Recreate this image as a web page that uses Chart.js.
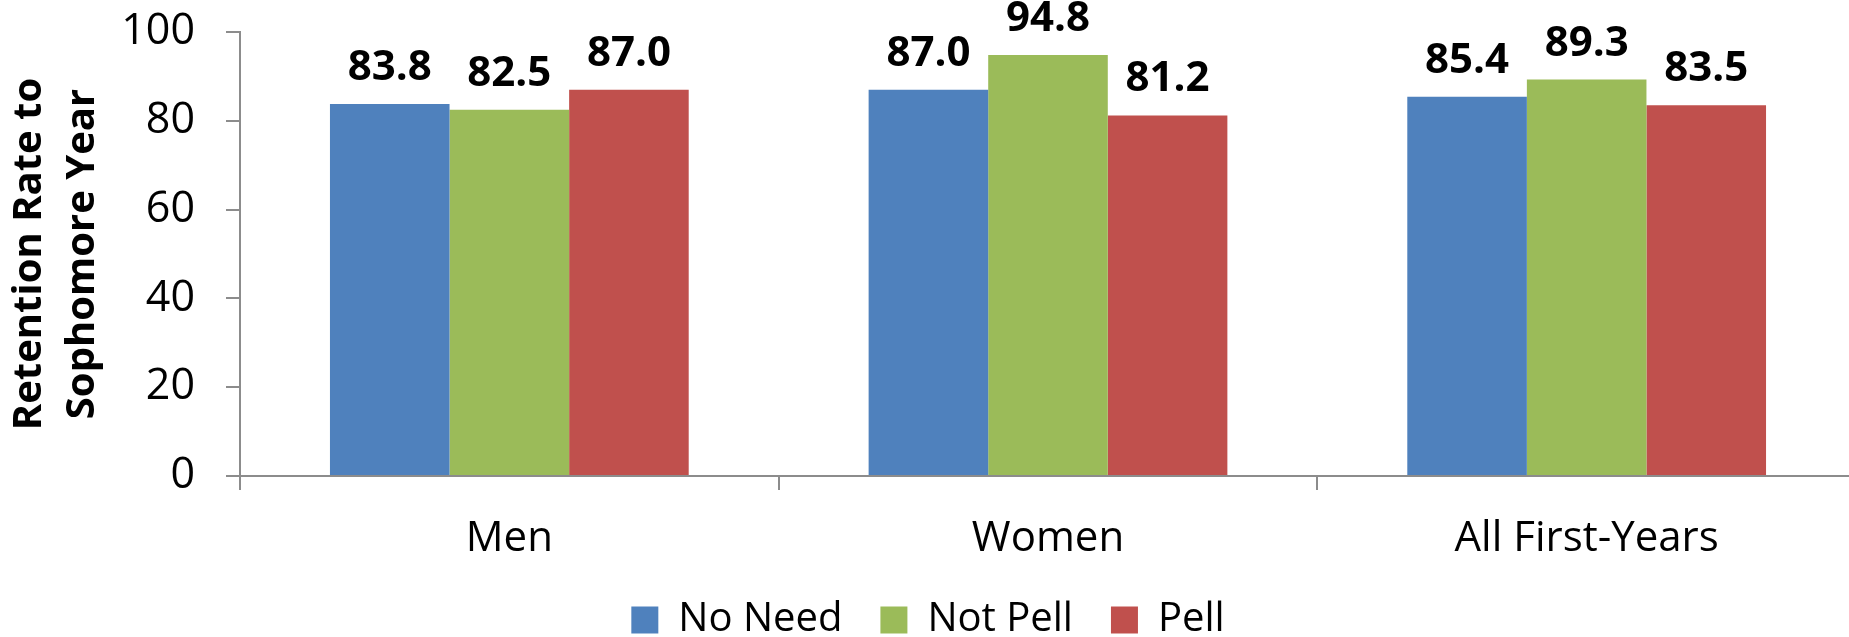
<!DOCTYPE html>
<html>
<head>
<meta charset="utf-8">
<title>Retention Rate to Sophomore Year</title>
<script src="https://cdn.jsdelivr.net/npm/chart.js@4/dist/chart.umd.min.js"></script>
<style>
  html, body { margin: 0; padding: 0; background: #ffffff; overflow: hidden; }
  #wrap { width: 1856px; height: 637px; }
  canvas { display: block; }
</style>
</head>
<body>
<div id="wrap"><canvas id="chart" width="1856" height="637"></canvas></div>
<script>
// Student groups along the x axis
const categories = ['Men', 'Women', 'All First-Years'];

// Retention rates (%) for each financial-need group
const seriesNames = ['No Need', 'Not Pell', 'Pell'];
const noNeed  = [83.8, 87.0, 85.4];
const notPell = [82.5, 94.8, 89.3];
const pell    = [87.0, 81.2, 83.5];

// Y axis tick values
const yTicks = [0, 20, 40, 60, 80, 100];

const seriesColors = ['#4F81BD', '#9BBB59', '#C0504D'];
const axisGray = '#8c8c8c';
const FONT = '"Open Sans", "Liberation Sans", sans-serif';

// Writes each bar's value above it
const valueLabels = {
  id: 'valueLabels',
  afterDatasetsDraw(chart) {
    const ctx = chart.ctx;
    ctx.save();
    ctx.font = 'bold 42px ' + FONT;
    ctx.fillStyle = '#000000';
    ctx.textAlign = 'center';
    ctx.textBaseline = 'alphabetic';
    chart.data.datasets.forEach((ds, i) => {
      chart.getDatasetMeta(i).data.forEach((bar, j) => {
        ctx.fillText(ds.data[j].toFixed(1), bar.x, bar.y - 24);
      });
    });
    ctx.restore();
  }
};

function build() {
  const values = [noNeed, notPell, pell];
  new Chart(document.getElementById('chart'), {
    type: 'bar',
    data: {
      labels: categories,
      datasets: seriesNames.map((name, i) => ({
        label: name,
        data: values[i],
        backgroundColor: seriesColors[i],
        borderWidth: 0,
        categoryPercentage: 0.666,
        barPercentage: 1.0
      }))
    },
    options: {
      responsive: false,
      animation: false,
      devicePixelRatio: 1,
      layout: { padding: { top: 0, right: 0, bottom: -13, left: 0 } },
      plugins: {
        legend: {
          position: 'bottom',
          labels: {
            boxWidth: 27,
            boxHeight: 27,
            padding: 38,
            color: '#000000',
            font: { family: FONT, size: 40 }
          }
        },
        tooltip: { enabled: false }
      },
      scales: {
        x: {
          grid: {
            offset: true,
            drawOnChartArea: false,
            drawTicks: true,
            tickLength: 14,
            color: axisGray,
            lineWidth: 2
          },
          border: { display: true, color: axisGray, width: 2 },
          ticks: {
            color: '#000000',
            padding: 24,
            font: { family: FONT, size: 42 }
          },
          afterFit(scale) { scale.height = 86; }
        },
        y: {
          min: yTicks[0],
          max: yTicks[yTicks.length - 1],
          afterBuildTicks(scale) { scale.ticks = yTicks.map(v => ({ value: v })); },
          grid: {
            drawOnChartArea: false,
            drawTicks: true,
            tickLength: 14,
            color: axisGray,
            lineWidth: 2
          },
          border: { display: true, color: axisGray, width: 2 },
          ticks: {
            color: '#000000',
            padding: 31,
            font: { family: FONT, size: 43 }
          },
          title: {
            display: true,
            text: ['Retention Rate to', 'Sophomore Year'],
            color: '#000000',
            padding: { top: 3, bottom: 0 },
            font: { family: FONT, size: 40, weight: 'bold', lineHeight: 1.33 }
          },
          afterFit(scale) {
            scale.width = 240;
            // plot area starts 32px below the top edge
            scale.paddingTop = 32;
            scale.paddingBottom = 0;
          }
        }
      }
    },
    plugins: [valueLabels]
  });
}

Promise.all([
  document.fonts.load('42px "Open Sans"'),
  document.fonts.load('bold 42px "Open Sans"')
]).catch(() => {}).then(build);
</script>
</body>
</html>
